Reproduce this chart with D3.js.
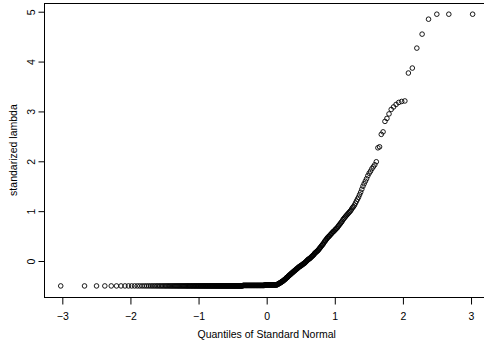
<!DOCTYPE html>
<html>
<head>
<meta charset="utf-8">
<script src="https://cdn.jsdelivr.net/npm/d3@7"></script>
<style>
  html, body { margin: 0; padding: 0; background: #fff; }
  svg { display: block; }
  text { font-family: "Liberation Sans", Arial, Helvetica, sans-serif; fill: #000; }
</style>
</head>
<body>
<svg id="chart" width="484" height="347"></svg>
<script>
// Sorted sample of standardized lambda (400 values).
// Lower part: runs of [value, count].
const lowerRuns = [[-0.50, 145], [-0.49, 50], [-0.48, 29]];
// Upper part: individual sorted values.
const upperValues = [
  -0.47,-0.47,-0.46,-0.46,-0.45, -0.45,-0.44,-0.44,-0.43,-0.43,
  -0.42,-0.41,-0.41,-0.40,-0.40, -0.39,-0.38,-0.37,-0.37,-0.36,
  -0.35,-0.34,-0.33,-0.33,-0.32, -0.31,-0.30,-0.29,-0.28,-0.28,
  -0.27,-0.26,-0.25,-0.24,-0.24, -0.23,-0.22,-0.21,-0.20,-0.20,
  -0.19,-0.18,-0.17,-0.16,-0.16, -0.15,-0.14,-0.13,-0.12,-0.12,
  -0.11,-0.10,-0.10,-0.09,-0.08, -0.08,-0.07,-0.06,-0.05,-0.05,
  -0.04,-0.03,-0.02,-0.01, 0.00,  0.01, 0.02, 0.03, 0.04, 0.04,
   0.05, 0.06, 0.07, 0.08, 0.09,  0.10, 0.11, 0.12, 0.13, 0.15,
   0.16, 0.17, 0.18, 0.19, 0.20,  0.21, 0.22, 0.24, 0.25, 0.27,
   0.28, 0.30, 0.31, 0.33, 0.34,  0.36, 0.38, 0.40, 0.41, 0.43,
   0.45, 0.46, 0.48, 0.49, 0.50,  0.52, 0.53, 0.55, 0.56, 0.58,
   0.59, 0.60, 0.62, 0.63, 0.65,  0.66, 0.68, 0.70, 0.72, 0.74,
   0.76, 0.78, 0.80, 0.83, 0.85,  0.87, 0.89, 0.91, 0.93, 0.95,
   0.97, 0.99, 1.01, 1.04, 1.07,  1.09, 1.12, 1.16, 1.20, 1.24,
   1.28, 1.33, 1.38, 1.44, 1.50,  1.55, 1.60, 1.65, 1.71, 1.76,
   1.80, 1.85, 1.89, 1.93, 1.99,
   2.27, 2.29, 2.54, 2.59,
   2.80, 2.86, 2.95, 3.04, 3.09, 3.14, 3.18, 3.20, 3.21,
   3.77, 3.87, 4.27, 4.55, 4.85, 4.95, 4.95, 4.95
];
const xTicks = [-3, -2, -1, 0, 1, 2, 3];
const yTicks = [0, 1, 2, 3, 4, 5];
const xTitle = "Quantiles of Standard Normal";
const yTitle = "standarized lambda";

// Inverse standard normal CDF (Acklam's rational approximation).
function qnorm(p) {
  const a = [-3.969683028665376e+01, 2.209460984245205e+02, -2.759285104469687e+02,
             1.383577518672690e+02, -3.066479806614716e+01, 2.506628277459239e+00];
  const b = [-5.447609879822406e+01, 1.615858368580409e+02, -1.556989798598866e+02,
             6.680131188771972e+01, -1.328068155288572e+01];
  const c = [-7.784894002430293e-03, -3.223964580411365e-01, -2.400758277161838e+00,
             -2.549671010322563e+00, 4.374664141464968e+00, 2.938163982698783e+00];
  const d = [7.784695709041462e-03, 3.224671290700398e-01, 2.445134137142996e+00,
             3.754408661907416e+00];
  const pl = 0.02425, ph = 1 - pl;
  let q, r;
  if (p < pl) {
    q = Math.sqrt(-2 * Math.log(p));
    return (((((c[0]*q+c[1])*q+c[2])*q+c[3])*q+c[4])*q+c[5]) /
           ((((d[0]*q+d[1])*q+d[2])*q+d[3])*q+1);
  } else if (p <= ph) {
    q = p - 0.5; r = q * q;
    return (((((a[0]*r+a[1])*r+a[2])*r+a[3])*r+a[4])*r+a[5])*q /
           (((((b[0]*r+b[1])*r+b[2])*r+b[3])*r+b[4])*r+1);
  } else {
    q = Math.sqrt(-2 * Math.log(1 - p));
    return -(((((c[0]*q+c[1])*q+c[2])*q+c[3])*q+c[4])*q+c[5]) /
            ((((d[0]*q+d[1])*q+d[2])*q+d[3])*q+1);
  }
}

// Assemble the sorted sample and pair each value with its normal quantile.
const sample = [];
lowerRuns.forEach(([v, n]) => { for (let k = 0; k < n; k++) sample.push(v); });
upperValues.forEach(v => sample.push(v));
const n = sample.length;
const points = sample.map((v, i) => ({ q: qnorm((i + 0.5) / n), v }));

// Axis limits: data range padded by 4% on each side.
function padded(ext) { const w = ext[1] - ext[0]; return [ext[0] - 0.04 * w, ext[1] + 0.04 * w]; }
const xDom = padded(d3.extent(points, d => d.q));
const yDom = padded(d3.extent(points, d => d.v));

const plot = { left: 44.25, right: 489.1, top: 3.33, bottom: 296.8 };
const x = d3.scaleLinear().domain(xDom).range([plot.left, plot.right]);
const y = d3.scaleLinear().domain(yDom).range([plot.bottom, plot.top]);

const svg = d3.select("#chart");

// Points
svg.append("g")
  .selectAll("circle")
  .data(points)
  .join("circle")
  .attr("cx", d => x(d.q))
  .attr("cy", d => y(d.v))
  .attr("r", 2.3)
  .attr("fill", "none")
  .attr("stroke", "#000")
  .attr("stroke-width", 0.9);

// Frame
svg.append("rect")
  .attr("x", Math.round(plot.left) + 0.5)
  .attr("y", Math.round(plot.top) + 0.5)
  .attr("width", Math.round(plot.right) - Math.round(plot.left))
  .attr("height", Math.round(plot.bottom) - Math.round(plot.top))
  .attr("fill", "none")
  .attr("stroke", "#000")
  .attr("stroke-width", 1);

// X axis
const gx = svg.append("g")
  .attr("transform", `translate(0,${Math.round(plot.bottom) + 0.5})`)
  .call(d3.axisBottom(x).tickValues(xTicks).tickSize(7).tickPadding(8).tickFormat(d3.format("d")));
gx.select(".domain").remove();
gx.selectAll(".tick line").attr("stroke", "#000");
gx.selectAll(".tick text")
  .style("font-family", '"Liberation Sans", Arial, sans-serif')
  .style("font-size", "10.5px")
  .attr("fill", "#000");

// Y axis (labels parallel to the axis)
const gy = svg.append("g")
  .attr("transform", `translate(${Math.round(plot.left) + 0.5},0)`)
  .call(d3.axisLeft(y).tickValues(yTicks).tickSize(6).tickFormat(d3.format("d")));
gy.select(".domain").remove();
gy.selectAll(".tick line").attr("stroke", "#000");
gy.selectAll(".tick text")
  .attr("x", null).attr("dy", null)
  .attr("text-anchor", "middle")
  .attr("transform", "translate(-13.5,0) rotate(-90)")
  .attr("dy", "0.35em")
  .style("font-family", '"Liberation Sans", Arial, sans-serif')
  .style("font-size", "10.5px")
  .attr("fill", "#000");

// Axis titles
svg.append("text")
  .attr("x", (plot.left + plot.right) / 2)
  .attr("y", 338)
  .attr("text-anchor", "middle")
  .style("font-size", "10.5px")
  .text(xTitle);

svg.append("text")
  .attr("transform", `translate(13,${(plot.top + plot.bottom) / 2}) rotate(-90)`)
  .attr("text-anchor", "middle")
  .attr("dy", "0.35em")
  .style("font-size", "10.5px")
  .text(yTitle);
</script>
</body>
</html>
